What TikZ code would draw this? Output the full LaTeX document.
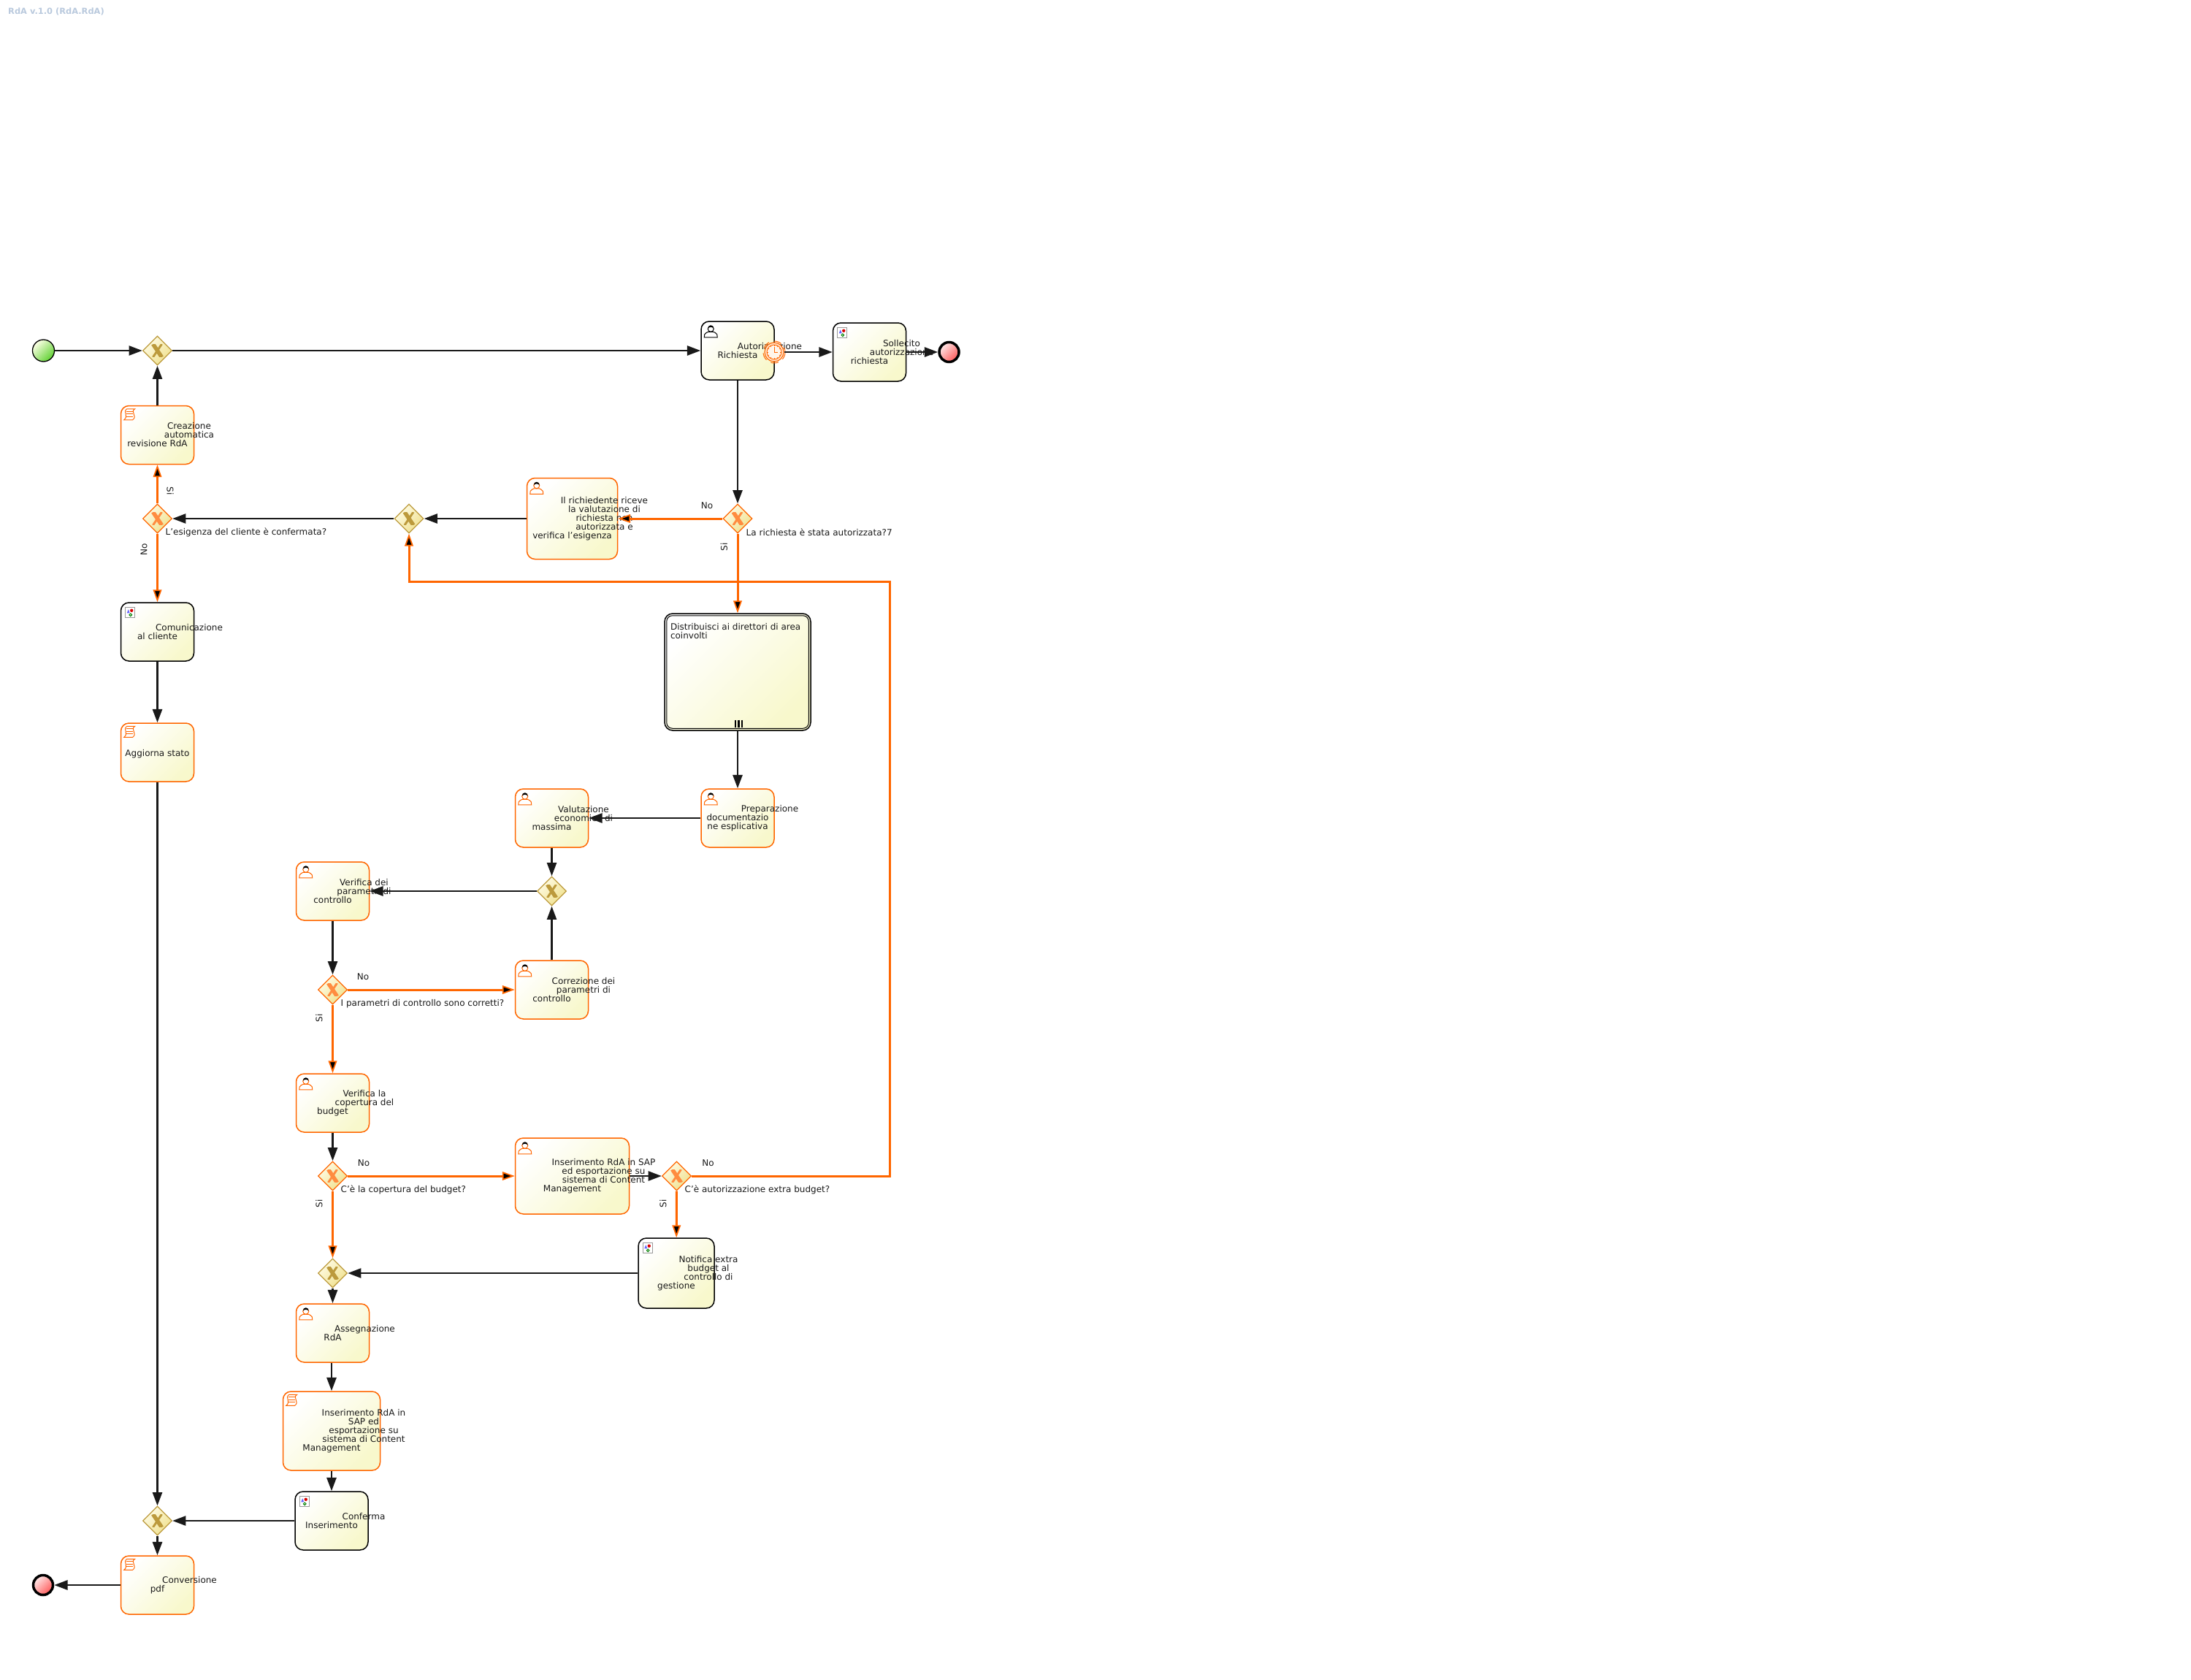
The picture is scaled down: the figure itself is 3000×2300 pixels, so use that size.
\documentclass[tikz,border=0pt]{standalone}
\usepackage{fontspec}
\setmainfont{DejaVu Sans}
\usepackage{xcolor}
\usetikzlibrary{arrows.meta,shapes.geometric}
\definecolor{bpmorange}{HTML}{FF6600}
\definecolor{bpmyellow}{HTML}{F8F8CC}
\definecolor{gwlight}{HTML}{FFFCE6}
\definecolor{gwdark}{HTML}{EFE08C}
\definecolor{gwgold}{HTML}{BC9A3C}
\definecolor{titleblue}{HTML}{B9C9DD}
\newlength{\pxx}
\setlength{\pxx}{0.01cm}
\newcommand{\taskfont}{\fontsize{3.414}{3.414}\selectfont}
\newcommand{\shln}[2]{\makebox[0pt]{\kern\dimexpr#1\pxx*2\relax#2}}
\tikzset{
  bpmtask/.style={rectangle, rounded corners=11\pxx, top color=white, bottom color=bpmyellow,
    shading angle=45, inner sep=0pt, align=center, font=\taskfont, text=black!90,
    line width=1.5\pxx, execute at begin node={\rule{0pt}{13\pxx}}},
  humantask/.style={bpmtask, draw=bpmorange},
  autotask/.style={bpmtask, draw=black},
  gateway/.style={diamond, aspect=1, minimum width=40\pxx, minimum height=40\pxx, inner sep=0pt,
    top color=gwlight, bottom color=gwdark, shading angle=45, draw=gwgold, line width=1.3\pxx},
  gatewayon/.style={gateway, draw=bpmorange},
  startev/.style={circle, minimum size=30\pxx, inner sep=0pt, top color=green!10!yellow!10, bottom color=green!55!olive!80,
    shading angle=45, draw=black, line width=1.3\pxx},
  endev/.style={circle, minimum size=27\pxx, inner sep=0pt, top color=red!8, bottom color=red!65,
    shading angle=45, draw=black, line width=3.5\pxx},
  flowblack/.style={line width=2.6\pxx, black!90, -{Triangle[length=5.2pt,width=3.7pt]}},
  floworange/.style={line width=3\pxx, bpmorange, -{Triangle[length=4.8pt,width=3.3pt,fill=black,line width=0.5pt]}},
  flowlabel/.style={font=\taskfont, text=black!90, inner sep=0pt},
  pics/usericon/.style={code={
    \draw[draw=#1, fill=white, line width=1\pxx] (5,22.7) -- (5.5,18.5) .. controls (7,16) and (9,16) .. (10.5,15)
      -- (17.5,15) .. controls (19,16) and (21,16) .. (22.5,18.5) -- (23,22.7) -- cycle;
    \draw[draw=#1, fill=white, line width=1\pxx] (14,11) circle (4);
    \fill[black] (10,10.5) .. controls (10,4.5) and (18,4.5) .. (18,10.5) .. controls (16,8) and (12,8) .. (10,10.5) -- cycle;
  }},
  pics/scripticon/.style={code={
    \draw[draw=bpmorange, fill=white, line width=1\pxx] (9,5) -- (20,5) .. controls (13,9) and (24,15) .. (17,20)
      -- (5,20) .. controls (12,15) and (3,9) .. (9,5) -- cycle;
    \foreach \yy in {8.5,12,15.5}
      \draw[bpmorange, line width=0.9\pxx] (8.5,\yy) -- (17.5,\yy);
  }},
  pics/docicon/.style={code={
    \draw[draw=black!40, fill=white, line width=1.2\pxx] (7,7) rectangle (20,21);
    \fill[blue!60] (9,15) -- (11,10) -- (13,15) -- cycle;
    \fill[red!85!black] (15.5,11.5) circle (2.2);
    \draw[green!50!black, line width=1\pxx] (14,17.5) circle (1.8);
  }},
  pics/gwmark/.style={code={
    \begin{scope}
      \clip (-8.5,-8.5) rectangle (8.5,8.5);
      \draw[#1, line width=3\pxx] (-6,9) -- (6,-9);
      \draw[#1, line width=5.5\pxx] (-6,-9) -- (6,9);
    \end{scope}
  }}
}

\begin{document}
\begin{tikzpicture}[x=0.01cm, y=-0.01cm, >=Stealth]
\useasboundingbox (0,0) rectangle (3000,2300);

\node[anchor=west, inner sep=0pt, font=\bfseries\fontsize{3.25}{3.25}\selectfont, text=titleblue] (title) at (10.5,15.5) {RdA v.1.0 (RdA.RdA)};

%% === Events and gateways ===
\node[startev] (start) at (59.5,480) {};
\node[endev] (endA) at (1299.5,482) {};
\node[endev] (endB) at (59,2170) {};

\node[gateway] (gwStart) at (215.5,480) {};
\node[gateway] (gwMid) at (560,710) {};
\node[gateway] (gwEco) at (755.5,1220) {};
\node[gateway] (gwJoin) at (455.5,1743) {};
\node[gateway] (gwEnd) at (215.5,2082) {};
\node[gatewayon] (gwConf) at (215.5,710) {};
\node[gatewayon] (gwAut) at (1010,710) {};
\node[gatewayon] (gwPar) at (455.5,1355) {};
\node[gatewayon] (gwBud) at (455.5,1610) {};
\node[gatewayon] (gwExtra) at (926.5,1610) {};

\foreach \g in {gwStart,gwMid,gwEco,gwJoin,gwEnd}
  \pic at (\g) {gwmark={gwgold}};
\foreach \g in {gwConf,gwAut,gwPar,gwBud,gwExtra}
  \pic at (\g) {gwmark={bpmorange!75}};

%% === Tasks ===
\node[autotask, minimum width=100\pxx, minimum height=80\pxx] (autoriz) at (1010,480)
  {\shln{44}{Autorizzazione}\\\shln{0}{Richiesta}};
\node[autotask, minimum width=100\pxx, minimum height=80\pxx] (sollecito) at (1190.5,482)
  {\shln{44}{Sollecito}\\\shln{44}{autorizzazione}\\\shln{0}{richiesta}};
\node[humantask, minimum width=100\pxx, minimum height=80\pxx] (creazione) at (215.5,595.5)
  {\shln{43.5}{Creazione}\\\shln{43.5}{automatica}\\\shln{0}{revisione RdA}};
\node[humantask, minimum width=124\pxx, minimum height=111\pxx] (richiedente) at (783.5,710)
  {\shln{44}{Il richiedente riceve}\\\shln{44}{la valutazione di}\\\shln{44}{richiesta non}\\\shln{44}{autorizzata e}\\\shln{0}{verifica l'esigenza}};
\node[autotask, minimum width=100\pxx, minimum height=80\pxx] (comunica) at (215.5,865)
  {\shln{43.5}{Comunicazione}\\\shln{0}{al cliente}};
\node[humantask, minimum width=100\pxx, minimum height=80\pxx] (aggiorna) at (215.5,1030)
  {\shln{0}{Aggiorna stato}};
\node[autotask, minimum width=200\pxx, minimum height=160\pxx] (distrib) at (1010,920)
  {\parbox[c][134\pxx][t]{184\pxx}{\raggedright Distribuisci ai direttori di area\\coinvolti}};
\node[humantask, minimum width=100\pxx, minimum height=80\pxx] (prepara) at (1010,1120)
  {\shln{44}{Preparazione}\\\shln{0}{documentazio}\\\shln{0}{ne esplicativa}};
\node[humantask, minimum width=100\pxx, minimum height=80\pxx] (valuta) at (755.5,1120)
  {\shln{43.5}{Valutazione}\\\shln{43.5}{economica di}\\\shln{0}{massima}};
\node[humantask, minimum width=100\pxx, minimum height=80\pxx] (verifDei) at (455.5,1220)
  {\shln{43}{Verifica dei}\\\shln{43}{parametri di}\\\shln{0}{controllo}};
\node[humantask, minimum width=100\pxx, minimum height=80\pxx] (correz) at (755.5,1355)
  {\shln{43.5}{Correzione dei}\\\shln{43.5}{parametri di}\\\shln{0}{controllo}};
\node[humantask, minimum width=100\pxx, minimum height=80\pxx] (verifLa) at (455.5,1510)
  {\shln{43.5}{Verifica la}\\\shln{43.5}{copertura del}\\\shln{0}{budget}};
\node[humantask, minimum width=156\pxx, minimum height=104\pxx] (insSap) at (783.5,1610)
  {\shln{43}{Inserimento RdA in SAP}\\\shln{43}{ed esportazione su}\\\shln{43}{sistema di Content}\\\shln{0}{Management}};
\node[autotask, minimum width=104\pxx, minimum height=96\pxx] (notifica) at (926,1743)
  {\shln{44}{Notifica extra}\\\shln{44}{budget al}\\\shln{44}{controllo di}\\\shln{0}{gestione}};
\node[humantask, minimum width=100\pxx, minimum height=80\pxx] (assegna) at (455.5,1825)
  {\shln{44}{Assegnazione}\\\shln{0}{RdA}};
\node[humantask, minimum width=133\pxx, minimum height=108\pxx] (insScript) at (454,1959)
  {\shln{44}{Inserimento RdA in}\\\shln{44}{SAP ed}\\\shln{44}{esportazione su}\\\shln{44}{sistema di Content}\\\shln{0}{Management}};
\node[autotask, minimum width=100\pxx, minimum height=80\pxx] (conferma) at (454,2082)
  {\shln{44}{Conferma}\\\shln{0}{Inserimento}};
\node[humantask, minimum width=100\pxx, minimum height=80\pxx] (convers) at (215.5,2170)
  {\shln{44}{Conversione}\\\shln{0}{pdf}};

% inner border and marker of the multi-instance task
\draw[black, line width=1\pxx, rounded corners=8\pxx]
  ([xshift=3.5\pxx,yshift=-3.5\pxx]distrib.north west) rectangle ([xshift=-3.5\pxx,yshift=3.5\pxx]distrib.south east);
\foreach \x in {1007,1011.5,1016}
  \draw[black, line width=2.3\pxx] (\x,985.5) -- (\x,995.5);

% icons
\pic at (autoriz.north west) {usericon={black}};
\foreach \t in {richiedente,prepara,valuta,verifDei,correz,verifLa,insSap,assegna}
  \pic at (\t.north west) {usericon={bpmorange}};
\foreach \t in {creazione,aggiorna,insScript,convers}
  \pic at (\t.north west) {scripticon};
\foreach \t in {sollecito,comunica,notifica,conferma}
  \pic at (\t.north west) {docicon};

%% === Timer on the approval task ===
\node[circle, minimum size=26\pxx, inner sep=0pt, fill=orange!15, draw=bpmorange, line width=1.2\pxx] (timer) at (1060,482) {};
\draw[bpmorange, line width=1\pxx, densely dashed] (timer) circle (15);
\draw[bpmorange, line width=1\pxx, fill=orange!8] (timer) circle (10);
\foreach \a in {0,30,...,330}
  \draw[bpmorange, line width=0.7\pxx] ([shift={(\a:8)}]timer.center) -- ([shift={(\a:10)}]timer.center);
\draw[bpmorange, line width=0.9\pxx] (1060,475) -- (1060,482) -- (1065,482);

%% === Sequence flows ===
\foreach \a/\b in {start/gwStart, gwStart/autoriz, creazione/gwStart, autoriz/gwAut, timer/sollecito,
                   sollecito/endA, richiedente/gwMid, gwMid/gwConf, comunica/aggiorna, aggiorna/gwEnd,
                   distrib/prepara, prepara/valuta, valuta/gwEco, gwEco/verifDei, correz/gwEco,
                   verifDei/gwPar, verifLa/gwBud, insSap/gwExtra, notifica/gwJoin, gwJoin/assegna,
                   insScript/conferma, conferma/gwEnd, gwEnd/convers, convers/endB} {
  \draw[flowblack] (\a) -- (\b);
}
\draw[flowblack] (insScript.north |- assegna.south) -- (insScript.north);
\foreach \a/\b in {gwConf/creazione, gwConf/comunica, gwAut/richiedente, gwAut/distrib, gwPar/correz,
                   gwPar/verifLa, gwBud/insSap, gwBud/gwJoin, gwExtra/notifica} {
  \draw[floworange] (\a) -- (\b);
}
% loop back to the merge gateway
\coordinate (backCorner) at (1218,796);
\draw[floworange] (gwExtra.east) -| (backCorner) -| (gwMid.south);

%% === Flow labels ===
\node[flowlabel, anchor=west] (qConf) at (226,729) {L'esigenza del cliente è confermata?};
\node[flowlabel, anchor=west] (qAut) at (1021,729) {La richiesta è stata autorizzata?7};
\node[flowlabel, anchor=west] (qPar) at (466,1374) {I parametri di controllo sono corretti?};
\node[flowlabel, anchor=west] (qBud) at (466,1629) {C'è la copertura del budget?};
\node[flowlabel, anchor=west] (qExtra) at (937,1629) {C'è autorizzazione extra budget?};

\node[flowlabel] (noAut) at (968,692) {No};
\node[flowlabel] (noPar) at (497,1337) {No};
\node[flowlabel] (noBud) at (498,1592) {No};
\node[flowlabel] (noExtra) at (969.5,1592) {No};
\node[flowlabel, rotate=90] (noConf) at (197,752) {No};
\node[flowlabel, rotate=-90] (siConf) at (233,672) {Si};
\node[flowlabel, rotate=90] (siAut) at (991.5,749) {Si};
\node[flowlabel, rotate=90] (siPar) at (437,1394) {Si};
\node[flowlabel, rotate=90] (siBud) at (437,1648) {Si};
\node[flowlabel, rotate=90] (siExtra) at (908,1648) {Si};

\end{tikzpicture}
\end{document}
